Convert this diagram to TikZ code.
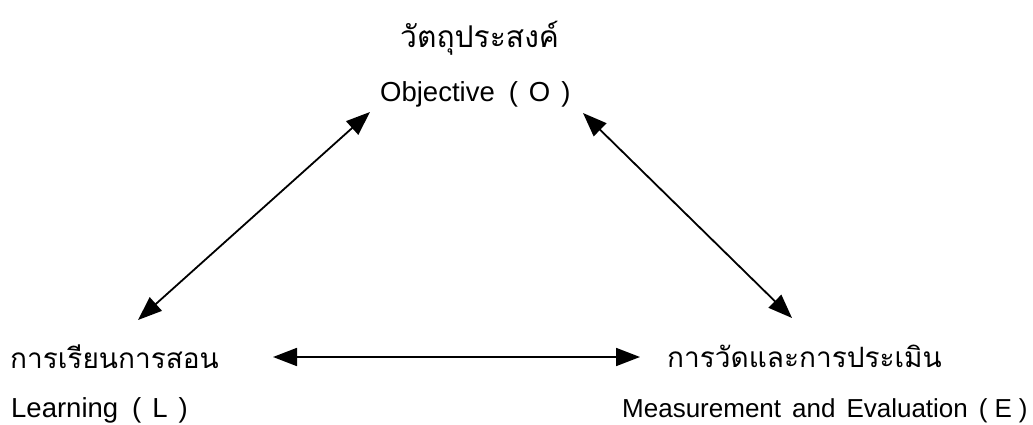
\documentclass[tikz,border=0pt]{standalone}
\usepackage{fontspec}
\setmainfont{Liberation Sans}
\newfontfamily\thaifont[Script=Thai]{Loma}
\usetikzlibrary{arrows.meta}
\usetikzlibrary{positioning}

\begin{document}
\begin{tikzpicture}[x=1pt,y=-1pt,
  thai/.style={font=\thaifont\fontsize{28}{32}\selectfont,inner sep=0pt,anchor=base west},
  eng/.style={font=\fontsize{27.5}{31}\selectfont,inner sep=0pt,anchor=base west},
  link/.style={line width=1.8pt,{Triangle[length=24pt,width=18pt]}-{Triangle[length=24pt,width=18pt]}}]
\useasboundingbox[fill=white] (0,0) rectangle (1033,425);

\node[thai,font=\thaifont\fontsize{30}{34}\selectfont] (objth) at (400,48) {วัตถุประสงค์};
\node[eng] (obj) at (380,102) {Objective\hspace{14pt}(\hspace{11pt}O\hspace{11pt})};

\node[thai] (learnth) at (10,368) {การเรียนการสอน};
\node[eng] (learn) at (11,417) {Learning\hspace{14pt}(\hspace{11pt}L\hspace{11pt})};

\node[thai] (measth) at (667,367) {การวัดและการประเมิน};
\node[eng,font=\fontsize{26}{30}\selectfont] (meas) at (622,417) {Measurement\hspace{11pt}and\hspace{11pt}Evaluation\hspace{11pt}(\hspace{7pt}E\hspace{7pt})};

\draw[link] ([shift={(-10,10)}]obj.base west) -- ([shift={(128,-48)}]learnth.base west);
\draw[link] ([shift={(203,11)}]obj.base west) -- ([shift={(125,-49)}]measth.base west);
\draw[link] ([shift={(263,-11)}]learnth.base west) -- ([shift={(-27,-10)}]measth.base west);

\end{tikzpicture}
\end{document}
